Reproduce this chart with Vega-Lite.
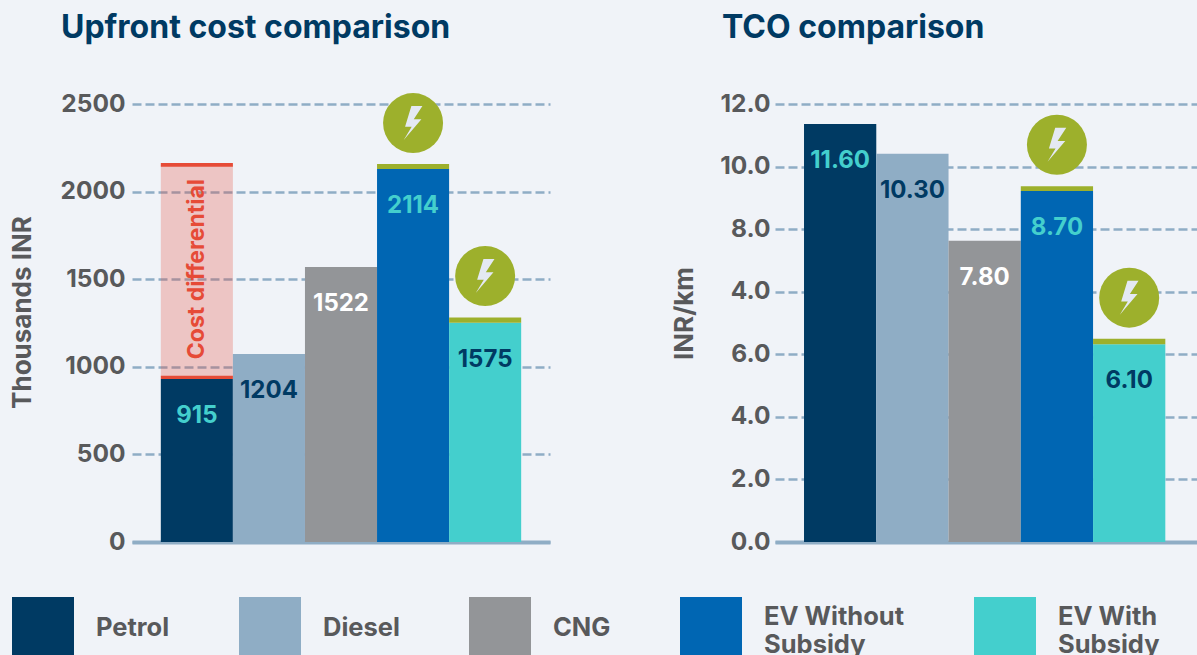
{
"$schema":"https://vega.github.io/schema/vega-lite/v6.json",
"background":"#f0f3f8",
"padding":{"left":9,"top":12,"right":0,"bottom":0},
"spacing":121,
"config":{"view":{"stroke":null},"font":"Inter",
 "axisY":{"grid":true,"gridColor":"#8fadc5","gridDash":[9,4],"gridWidth":2.5,"domain":false,"ticks":false,"labelFont":"Inter","labelFontSize":24.5,"labelFontWeight":700,"labelColor":"#58595b","titleFont":"Inter","titleFontSize":26,"titleFontWeight":700,"titleColor":"#58595b"},
 "axisX":{"grid":false,"ticks":false,"labels":false,"title":null,"domainColor":"#8fadc5","domainWidth":4},
 "title":{"font":"Inter","fontSize":32,"fontWeight":700,"color":"#003a63","anchor":"start","frame":"group"},
 "bar":{"stroke":null}
},
"datasets":{
 "cost":[
  {"fuel":"Petrol","height":930,"label":"915"},
  {"fuel":"Diesel","height":1073,"label":"1204"},
  {"fuel":"CNG","height":1570,"label":"1522"},
  {"fuel":"EV Without Subsidy","height":2129,"label":"2114"},
  {"fuel":"EV With Subsidy","height":1252,"label":"1575"}],
 "costCaps":[
  {"fuel":"EV Without Subsidy","from":2129,"to":2157},
  {"fuel":"EV With Subsidy","from":1252,"to":1282}],
 "costIcons":[{"fuel":"EV Without Subsidy","at":2391},{"fuel":"EV With Subsidy","at":1518}],
 "diffBand":[{"fuel":"Petrol","from":940,"to":2153,"at":1558,"note":"Cost differential"}],
 "diffLines":[{"fuel":"Petrol","from":930,"to":949},{"fuel":"Petrol","from":2142,"to":2163}],
 "tco":[
  {"fuel":"Petrol","height":13.36,"label":"11.60"},
  {"fuel":"Diesel","height":12.41,"label":"10.30"},
  {"fuel":"CNG","height":9.63,"label":"7.80"},
  {"fuel":"EV Without Subsidy","height":11.22,"label":"8.70"},
  {"fuel":"EV With Subsidy","height":6.32,"label":"6.10"}],
 "tcoCaps":[
  {"fuel":"EV Without Subsidy","from":11.22,"to":11.37},
  {"fuel":"EV With Subsidy","from":6.32,"to":6.5}],
 "tcoIcons":[{"fuel":"EV Without Subsidy","at":12.7},{"fuel":"EV With Subsidy","at":7.81}]
},
"hconcat":[
{
 "width":418,"height":438,
 "title":{"text":"Upfront cost comparison","dx":-71,"offset":46},
 "encoding":{"x":{"field":"fuel","type":"nominal","sort":["Petrol","Diesel","CNG","EV Without Subsidy","EV With Subsidy"],
   "scale":{"paddingInner":0,"paddingOuter":0.4},"axis":{}}},
 "layer":[
  {"data":{"name":"diffBand"},"mark":{"type":"bar","color":"#e64b37","opacity":0.27},
   "encoding":{"y":{"field":"from","type":"quantitative","scale":{"domain":[0,2500],"nice":false},
     "axis":{"values":[0,500,1000,1500,2000,2500],"format":"d","title":"Thousands INR","titleX":-97,"titleY":208,"labelPadding":7}},"y2":{"field":"to"}}},
  {"data":{"name":"cost"},"mark":{"type":"bar"},
   "encoding":{"y":{"field":"height","type":"quantitative","scale":{"domain":[0,2500],"nice":false}},
    "color":{"field":"fuel","type":"nominal","sort":["Petrol","Diesel","CNG","EV Without Subsidy","EV With Subsidy"],
     "scale":{"domain":["Petrol","Diesel","CNG","EV Without Subsidy","EV With Subsidy"],"range":["#003a63","#8fadc5","#939598","#0066b3","#44cfcd"]},
     "legend":{"orient":"none","legendX":-120,"legendY":493,"columns":5,"title":null,"symbolType":"square","symbolSize":3844,"symbolStrokeWidth":0,"symbolOpacity":1,"labelFont":"Inter","labelFontSize":25.5,"labelFontWeight":700,"labelColor":"#58595b","labelOffset":22,"labelLimit":300,"columnPadding":69,
      "labelExpr":"datum.label=='EV Without Subsidy'?['EV Without','Subsidy']:datum.label=='EV With Subsidy'?['EV With','Subsidy']:datum.label",
      "encoding":{"symbols":{"y":{"value":31}},
       "labels":{"dy":{"value":{"signal":"indexof(datum.label,'EV')==0?-11:0"}}}}}}}},
  {"data":{"name":"costCaps"},"mark":{"type":"bar","color":"#9db02c"},
   "encoding":{"y":{"field":"from","type":"quantitative","scale":{"domain":[0,2500],"nice":false}},"y2":{"field":"to"}}},
  {"data":{"name":"diffLines"},"mark":{"type":"bar","color":"#e64b37"},
   "encoding":{"y":{"field":"from","type":"quantitative","scale":{"domain":[0,2500],"nice":false}},"y2":{"field":"to"}}},
  {"data":{"name":"diffBand"},"mark":{"type":"text","color":"#e64b37","font":"Inter","fontSize":23,"fontWeight":700,"angle":270,"baseline":"middle","align":"center"},
   "encoding":{"y":{"field":"at","type":"quantitative","scale":{"domain":[0,2500],"nice":false}},"text":{"field":"note"}}},
  {"data":{"name":"cost"},"mark":{"type":"text","font":"Inter","fontSize":24,"fontWeight":700,"baseline":"middle","dy":37},
   "encoding":{"y":{"field":"height","type":"quantitative","scale":{"domain":[0,2500],"nice":false}},"text":{"field":"label"},
    "color":{"condition":[{"test":"datum.fuel=='CNG'","value":"#ffffff"},{"test":"datum.fuel=='Diesel'||datum.fuel=='EV With Subsidy'","value":"#003a63"}],"value":"#44cfcd"}}},
  {"data":{"name":"costIcons"},"mark":{"type":"point","shape":"circle","filled":true,"size":3600,"color":"#9db02c","opacity":1},
   "encoding":{"y":{"field":"at","type":"quantitative","scale":{"domain":[0,2500],"nice":false}}}},
  {"data":{"name":"costIcons"},"mark":{"type":"point","shape":"M0.55,-1L-0.1,-1L-0.47,0.22L-0.08,0.22L-0.55,1L0.49,-0.22L0.04,-0.22Z","filled":true,"size":1156,"color":"#e4e9f3","opacity":1},
   "encoding":{"y":{"field":"at","type":"quantitative","scale":{"domain":[0,2500],"nice":false}}}}
 ]
},
{
 "width":422,"height":438,
 "title":{"text":"TCO comparison","dx":-53,"offset":46},
 "encoding":{"x":{"field":"fuel","type":"nominal","sort":["Petrol","Diesel","CNG","EV Without Subsidy","EV With Subsidy"],
   "scale":{"paddingInner":0,"paddingOuter":0.42,"align":0.478},"axis":{}}},
 "layer":[
  {"data":{"name":"tco"},"mark":{"type":"bar"},
   "encoding":{"y":{"field":"height","type":"quantitative","scale":{"domain":[0,14],"nice":false},
     "axis":{"values":[0,2,4,6,8,10,12,14],"title":"INR/km","titleX":-78,"titleY":209,"labelPadding":5,
      "labelExpr":"datum.value==14?'12.0':datum.value==12?'10.0':datum.value==10?'8.0':datum.value==8?'4.0':format(datum.value,'.1f')"}},
    "color":{"field":"fuel","type":"nominal","sort":["Petrol","Diesel","CNG","EV Without Subsidy","EV With Subsidy"]}}},
  {"data":{"name":"tcoCaps"},"mark":{"type":"bar","color":"#9db02c"},
   "encoding":{"y":{"field":"from","type":"quantitative","scale":{"domain":[0,14],"nice":false}},"y2":{"field":"to"}}},
  {"data":{"name":"tco"},"mark":{"type":"text","font":"Inter","fontSize":24,"fontWeight":700,"baseline":"middle","dy":37},
   "encoding":{"y":{"field":"height","type":"quantitative","scale":{"domain":[0,14],"nice":false}},"text":{"field":"label"},
    "color":{"condition":[{"test":"datum.fuel=='CNG'","value":"#ffffff"},{"test":"datum.fuel=='Diesel'||datum.fuel=='EV With Subsidy'","value":"#003a63"}],"value":"#44cfcd"}}},
  {"data":{"name":"tcoIcons"},"mark":{"type":"point","shape":"circle","filled":true,"size":3600,"color":"#9db02c","opacity":1},
   "encoding":{"y":{"field":"at","type":"quantitative","scale":{"domain":[0,14],"nice":false}}}},
  {"data":{"name":"tcoIcons"},"mark":{"type":"point","shape":"M0.55,-1L-0.1,-1L-0.47,0.22L-0.08,0.22L-0.55,1L0.49,-0.22L0.04,-0.22Z","filled":true,"size":1156,"color":"#e4e9f3","opacity":1},
   "encoding":{"y":{"field":"at","type":"quantitative","scale":{"domain":[0,14],"nice":false}}}}
 ]
}
]
}
